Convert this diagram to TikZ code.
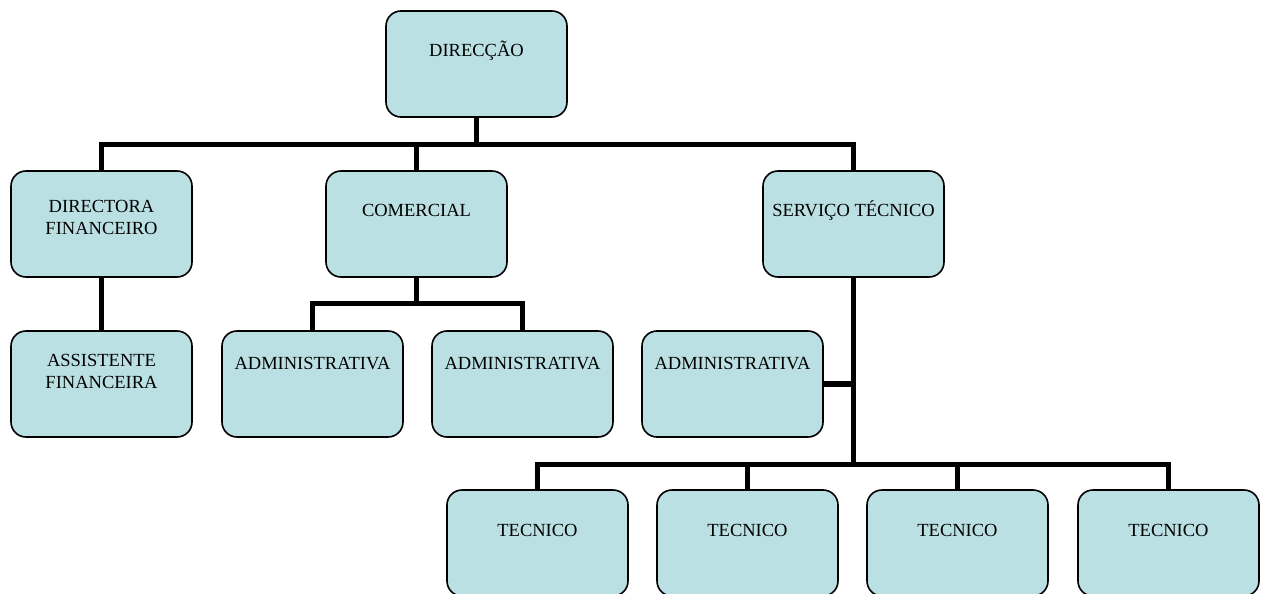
\documentclass[tikz,border=0pt]{standalone}
\usepackage{fontspec}
\setmainfont{Liberation Serif}
\definecolor{boxfill}{HTML}{BBE0E3}
\tikzset{
  orgbox/.style={draw=black, line width=0.8pt, fill=boxfill, rounded corners=7.5pt,
    minimum width=90.5pt, minimum height=53pt, inner sep=0pt},
  orgtext/.style={anchor=north, inner sep=0pt, align=center,
    font=\fontsize{9.25pt}{11pt}\selectfont, execute at begin node=\strut},
  conn/.style={draw=black, line width=2.6pt}
}
\begin{document}
\begin{tikzpicture}[x=0.5pt,y=-0.5pt]
\useasboundingbox (0,0) rectangle (1265,594);
% boxes
\node[orgbox] (d)  at (476.5,64)  {};
\node[orgbox] (df) at (101.5,224) {};
\node[orgbox] (co) at (416.5,224) {};
\node[orgbox] (st) at (853.5,224) {};
\node[orgbox] (af) at (101.5,384) {};
\node[orgbox] (a1) at (312.5,384) {};
\node[orgbox] (a2) at (522.5,384) {};
\node[orgbox] (a3) at (732.5,384) {};
\node[orgbox] (t1) at (537.5,543) {};
\node[orgbox] (t2) at (747.5,543) {};
\node[orgbox] (t3) at (957.5,543) {};
\node[orgbox] (t4) at (1168.5,543) {};
% texts
\node[orgtext] (dT)  at (476.5,41)  {DIRECÇÃO};
\node[orgtext] (dfT) at (101.5,200) {DIRECTORA\\FINANCEIRO};
\node[orgtext] (coT) at (416.5,201) {COMERCIAL};
\node[orgtext] (stT) at (853.5,200) {SERVIÇO TÉCNICO};
\node[orgtext] (afT) at (101.5,354) {ASSISTENTE\\FINANCEIRA};
\node[orgtext] (a1T) at (312.5,354) {ADMINISTRATIVA};
\node[orgtext] (a2T) at (522.5,354) {ADMINISTRATIVA};
\node[orgtext] (a3T) at (732.5,354) {ADMINISTRATIVA};
\node[orgtext] (t1T) at (537.5,521) {TECNICO};
\node[orgtext] (t2T) at (747.5,521) {TECNICO};
\node[orgtext] (t3T) at (957.5,521) {TECNICO};
\node[orgtext] (t4T) at (1168.5,521) {TECNICO};
% connectors
\draw[conn] (d.south) -- ++(0,28);
\draw[conn] (df.north) -- ++(0,-26) -| (st.north);
\draw[conn] (co.north) -- ++(0,-26);
\draw[conn] (df.south) -- (af.north);
\draw[conn] (co.south) -- ++(0,27);
\draw[conn] (a1.north) -- ++(0,-27) -| (a2.north);
\draw[conn] (st.south) -- ++(0,188);
\draw[conn] (a3.east) -- (a3.east -| st.south);
\draw[conn] (t1.north) -- ++(0,-25) -| (t4.north);
\draw[conn] (t2.north) -- ++(0,-25);
\draw[conn] (t3.north) -- ++(0,-25);
\end{tikzpicture}
\end{document}
